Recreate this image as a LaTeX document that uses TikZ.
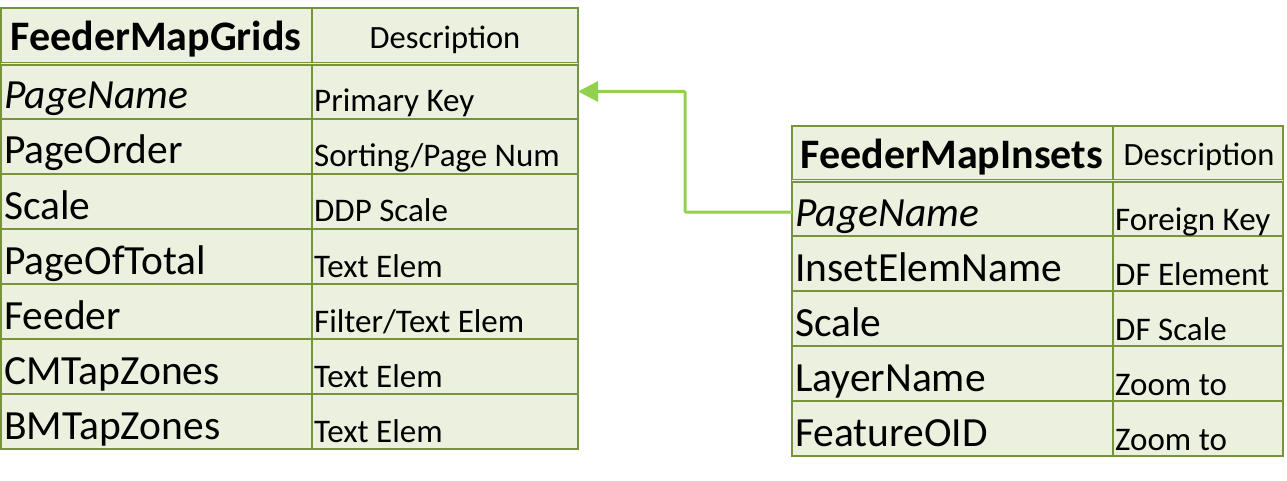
\documentclass[tikz,border=0pt]{standalone}
\usepackage{fontspec}
\setmainfont{Carlito}
\usetikzlibrary{arrows.meta}
\definecolor{tblborder}{HTML}{77933C}
\definecolor{tblfill}{HTML}{EBF1DE}
\definecolor{linkgreen}{HTML}{92D050}
\tikzset{
  cell/.style={draw=tblborder, fill=tblfill, line width=2pt, anchor=north west, inner sep=0pt, outer sep=0pt},
  namecell/.style={cell, minimum height=55pt},
  nametext/.style={font=\fontsize{41.5}{41.5}\selectfont, anchor=base west, inner sep=0pt},
  desctext/.style={font=\fontsize{33}{33}\selectfont, anchor=base west, inner sep=0pt},
  headtext/.style={font=\fontsize{42}{42}\selectfont\bfseries, anchor=base, inner sep=0pt},
  headdesc/.style={font=\fontsize{32.5}{32.5}\selectfont, anchor=base, inner sep=0pt},
  headline/.style={draw=tblborder, line width=1.1pt, double=tblfill, double distance=1pt},
  link/.style={draw=linkgreen, line width=3pt, rounded corners=1pt, -{Triangle[length=20pt,width=20pt]}}
}
\begin{document}
\begin{tikzpicture}[x=1pt,y=-1pt]
\useasboundingbox (0,0) rectangle (1287,481);

% ---------- Left table: FeederMapGrids ----------
\node[cell, minimum width=311pt, minimum height=56pt] (lH) at (1,8) {};
\node[cell, minimum width=266pt, minimum height=56pt] (lHd) at (312,8) {};
\node[namecell, minimum width=311pt] (lN1) at (1,64) {};
\node[namecell, minimum width=266pt] (lD1) at (312,64) {};
\node[namecell, minimum width=311pt] (lN2) at (1,119) {};
\node[namecell, minimum width=266pt] (lD2) at (312,119) {};
\node[namecell, minimum width=311pt] (lN3) at (1,174) {};
\node[namecell, minimum width=266pt] (lD3) at (312,174) {};
\node[namecell, minimum width=311pt] (lN4) at (1,229) {};
\node[namecell, minimum width=266pt] (lD4) at (312,229) {};
\node[namecell, minimum width=311pt] (lN5) at (1,284) {};
\node[namecell, minimum width=266pt] (lD5) at (312,284) {};
\node[namecell, minimum width=311pt] (lN6) at (1,339) {};
\node[namecell, minimum width=266pt] (lD6) at (312,339) {};
\node[namecell, minimum width=311pt] (lN7) at (1,394) {};
\node[namecell, minimum width=266pt] (lD7) at (312,394) {};
\draw[headline] (lH.south west) -- (lHd.south east);

\node[headtext] (tlH) at (156,51) {FeederMapGrids};
\node[headdesc] (tlHd) at (445,49) {Description};
\node[nametext] (tlN1) at (4,109) {\itshape PageName};
\node[desctext] (tlD1) at (314,112) {Primary Key};
\node[nametext] (tlN2) at (4,164) {PageOrder};
\node[desctext] (tlD2) at (314,167) {Sorting/Page Num};
\node[nametext] (tlN3) at (4,219) {Scale};
\node[desctext] (tlD3) at (314,222) {DDP Scale};
\node[nametext] (tlN4) at (4,274) {PageOfTotal};
\node[desctext] (tlD4) at (314,277) {Text Elem};
\node[nametext] (tlN5) at (4,329) {Feeder};
\node[desctext] (tlD5) at (314,332) {Filter/Text Elem};
\node[nametext] (tlN6) at (4,384) {CMTapZones};
\node[desctext] (tlD6) at (314,387) {Text Elem};
\node[nametext] (tlN7) at (4,439) {BMTapZones};
\node[desctext] (tlD7) at (314,442) {Text Elem};

% ---------- Right table: FeederMapInsets ----------
\node[cell, minimum width=321pt, minimum height=55pt] (rH) at (792,126) {};
\node[cell, minimum width=170pt, minimum height=55pt] (rHd) at (1113,126) {};
\node[namecell, minimum width=321pt] (rN1) at (792,181) {};
\node[namecell, minimum width=170pt] (rD1) at (1113,181) {};
\node[namecell, minimum width=321pt] (rN2) at (792,236) {};
\node[namecell, minimum width=170pt] (rD2) at (1113,236) {};
\node[namecell, minimum width=321pt] (rN3) at (792,291) {};
\node[namecell, minimum width=170pt] (rD3) at (1113,291) {};
\node[namecell, minimum width=321pt] (rN4) at (792,346) {};
\node[namecell, minimum width=170pt] (rD4) at (1113,346) {};
\node[namecell, minimum width=321pt] (rN5) at (792,401) {};
\node[namecell, minimum width=170pt] (rD5) at (1113,401) {};
\draw[headline] (rH.south west) -- (rHd.south east);

\node[headtext] (trH) at (952,169) {FeederMapInsets};
\node[headdesc] (trHd) at (1199,166) {Description};
\node[nametext] (trN1) at (795,226) {\itshape PageName};
\node[desctext] (trD1) at (1115,230) {Foreign Key};
\node[nametext] (trN2) at (795,281) {InsetElemName};
\node[desctext] (trD2) at (1115,285) {DF Element};
\node[nametext] (trN3) at (795,336) {Scale};
\node[desctext] (trD3) at (1115,340) {DF Scale};
\node[nametext] (trN4) at (795,391) {LayerName};
\node[desctext] (trD4) at (1115,395) {Zoom to};
\node[nametext] (trN5) at (795,446) {FeatureOID};
\node[desctext] (trD5) at (1115,450) {Zoom to};

% ---------- Relationship connector ----------
\draw[link] ([yshift=-3.5pt]rN1.west) -- ++(-107,0) |- (lD1.east);
\end{tikzpicture}
\end{document}
